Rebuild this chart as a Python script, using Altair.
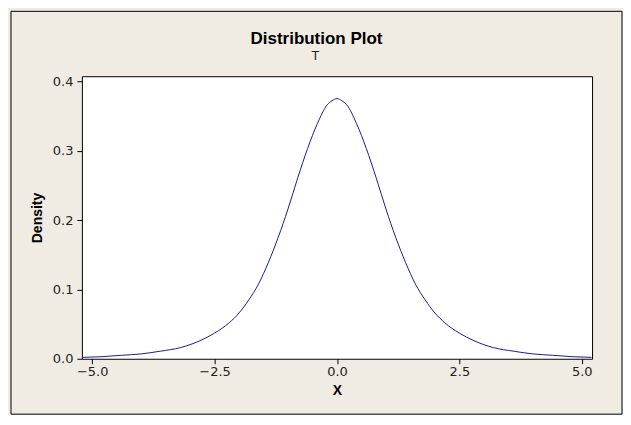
import altair as alt
import pandas as pd

# Values (density of T)
x_vals = [-5.2, -4.8, -4.4, -4.0, -3.6, -3.2, -2.8, -2.5, -2.2, -2.0, -1.8, -1.6,
          -1.4, -1.2, -1.0, -0.8, -0.6, -0.4, -0.2, -0.1, 0.0,
          0.1, 0.2, 0.4, 0.6, 0.8, 1.0, 1.2, 1.4, 1.6, 1.8, 2.0, 2.2, 2.5,
          2.8, 3.2, 3.6, 4.0, 4.4, 4.8, 5.2]
density = [0.002, 0.003, 0.005, 0.007, 0.011, 0.016, 0.026, 0.037, 0.052, 0.066, 0.085, 0.108,
           0.139, 0.175, 0.216, 0.261, 0.303, 0.339, 0.366, 0.372, 0.375,
           0.372, 0.366, 0.339, 0.303, 0.261, 0.216, 0.175, 0.139, 0.108, 0.085, 0.066, 0.052, 0.037,
           0.026, 0.016, 0.011, 0.007, 0.005, 0.003, 0.002]
x_ticks = [-5.0, -2.5, 0.0, 2.5, 5.0]
y_ticks = [0.0, 0.1, 0.2, 0.3, 0.4]
title_text = "Distribution Plot"
subtitle_text = "T"

df = pd.DataFrame({"X": x_vals, "Density": density})
one = pd.DataFrame({"k": [0]})

W, H = 511, 283
BEIGE = "#F0ECE3"

x_enc = alt.X("X:Q", title="X",
              scale=alt.Scale(domain=[-5.21, 5.21], nice=False, zero=False),
              axis=alt.Axis(values=x_ticks, format=".1f", grid=False))
y_enc = alt.Y("Density:Q", title="Density",
              scale=alt.Scale(domain=[0, 0.4073], nice=False),
              axis=alt.Axis(values=y_ticks, format=".1f", grid=False))

frame = alt.Chart(one).mark_rect(fill=None, stroke="black", strokeWidth=1).encode(
    x=alt.value(-71), x2=alt.value(541), y=alt.value(-65), y2=alt.value(338.5)
)
title_mark = alt.Chart(one).mark_text(
    text=title_text, font="Liberation Sans", fontSize=17, fontWeight="bold",
    color="black", align="center", baseline="alphabetic"
).encode(x=alt.value(235), y=alt.value(-32))
subtitle_mark = alt.Chart(one).mark_text(
    text=subtitle_text, font="DejaVu Sans", fontSize=12,
    color="#222222", align="center", baseline="alphabetic"
).encode(x=alt.value(234), y=alt.value(-16))
line = alt.Chart(df).mark_line(color="#1C1C8E", strokeWidth=1, interpolate="monotone").encode(
    x=x_enc, y=y_enc
)

chart = alt.layer(frame, title_mark, subtitle_mark, line).properties(
    width=W, height=H,
    autosize=alt.AutoSizeParams(type="none"),
    padding={"left": 74, "top": 68, "right": 31, "bottom": 56},
    background=BEIGE,
).configure_view(fill="white", stroke="black", strokeWidth=1).configure_axis(
    domain=False,
    tickColor="black", tickSize=5, tickWidth=1,
    labelFont="DejaVu Sans", labelFontSize=13, labelColor="#222222",
    titleFont="Liberation Sans", titleFontSize=14, titleFontWeight="bold", titleColor="black",
).configure_axisX(labelPadding=2, titlePadding=5).configure_axisY(labelPadding=4, titlePadding=8)

chart.save("out.html", embed_options={"renderer": "svg", "actions": False})
